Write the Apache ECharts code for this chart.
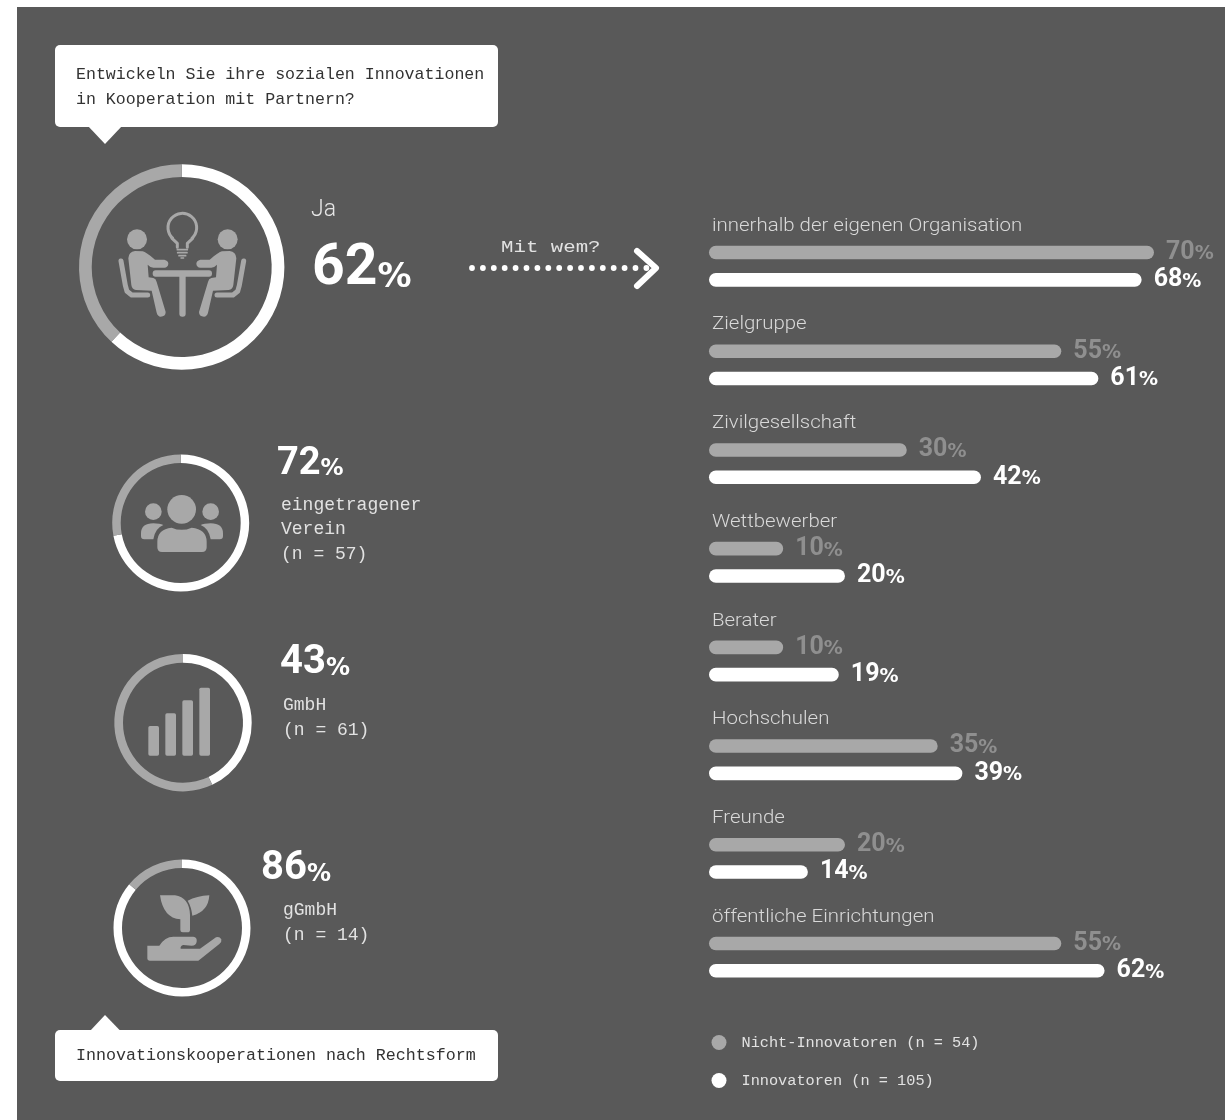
<!DOCTYPE html>
<html lang="de">
<head>
<meta charset="utf-8">
<title>Innovationskooperationen</title>
<style>html,body{margin:0;padding:0;background:#fff}#chart{width:1225px;height:1120px}</style>
<script src="https://cdn.jsdelivr.net/npm/echarts@6/dist/echarts.min.js"></script>
</head>
<body>
<div id="chart"></div>
<script>
// Partner categories and the share of each group that cooperates with them (percent)
const kategorien = ['innerhalb der eigenen Organisation', 'Zielgruppe', 'Zivilgesellschaft', 'Wettbewerber', 'Berater', 'Hochschulen', 'Freunde', 'öffentliche Einrichtungen'];
const nichtInnovatoren = [70, 55, 30, 10, 10, 35, 20, 55];
const innovatoren = [68, 61, 42, 20, 19, 39, 14, 62];
const serieNamen = ['Nicht-Innovatoren (n = 54)', 'Innovatoren (n = 105)'];

// Cooperation share overall and by legal form (percent)
const anteilGesamt = 62;
const anteilRechtsform = [72, 43, 86];

const GRAU = '#a8a8a8', GRAU_TEXT = '#8f8f8f', WEISS = '#ffffff', HINTERGRUND = '#595959';
const HELL_TEXT = '#e2e2e2', MONO = '"Liberation Mono", monospace', SANS = 'Roboto, sans-serif', PROZENT = '"DejaVu Sans", sans-serif';

const chart = echarts.init(document.getElementById('chart'), null, { renderer: 'canvas' });

function text(x, y, s, font, fill, extra) {
  return Object.assign({ type: 'text', z: 10, silent: true, style: Object.assign({ x: x, y: y, text: s, font: font, fill: fill, align: 'left', verticalAlign: 'middle' }, extra && extra.style) }, extra && extra.el);
}
// Large figure with a smaller percent sign on the same baseline
function prozent(x, y, value, size, small) {
  const pad = Math.round(0.7 * (size - small));
  return { type: 'text', z: 10, silent: true, style: {
    x: x, y: y, text: '{v|' + value + '}{p|%}', fill: WEISS, align: 'left', verticalAlign: 'middle',
    rich: {
      v: { font: '700 ' + size + 'px ' + SANS, fill: WEISS },
      p: { font: '700 ' + small + 'px ' + PROZENT, fill: WEISS, padding: [pad, 0, 0, 0] }
    }
  } };
}
let pfadNummer = 0;
function pfad(d) {
  const name = 'symbolPfad' + (pfadNummer++);
  echarts.graphic.registerShape(name, echarts.graphic.extendPath(d));
  return { type: name, style: { fill: GRAU } };
}
function linie(points, width) {
  return { type: 'polyline', shape: { points: points }, style: { stroke: GRAU, lineWidth: width, lineCap: 'round', lineJoin: 'round', fill: null } };
}
function gruppe(x, y, sx, children) {
  return { type: 'group', x: x, y: y, scaleX: sx, scaleY: Math.abs(sx), z: 5, silent: true, children: children };
}
function sprechblase(x, y, w, h, tri) {
  return [
    { type: 'rect', z: 3, silent: true, shape: { x: x, y: y, width: w, height: h, r: 5 }, style: { fill: WEISS } },
    { type: 'polygon', z: 3, silent: true, shape: { points: tri }, style: { fill: WEISS } }
  ];
}

// Pictograms, drawn in a 3x local grid
const personKopf = { type: 'circle', shape: { cx: 111, cy: 148, r: 30 }, style: { fill: GRAU } };
const personKoerper = pfad('M85,205 Q86,185 105,183 L128,184 Q138,186 165,209 L193,209 Q205,212 205,221 Q204,232 193,233 L160,233 Q150,232 143,224 L146,262 L160,264 Q168,266 170,276 L197,366 Q197,380 182,380 Q173,379 170,368 L155,302 L108,300 Q96,298 94,285 Z');
const personStuhl = linie([[63, 213], [76, 286], [81, 304], [95, 315], [143, 315]], 15);
const person = function () {
  return [Object.assign({}, personKopf), Object.assign({}, personKoerper), Object.assign({}, personStuhl)];
};
const symbolTisch = gruppe(100, 190, 1 / 3, person().concat([
  { type: 'arc', shape: { cx: 247, cy: 113, r: 43, startAngle: Math.PI * 0.72, endAngle: Math.PI * 0.28, clockwise: true }, style: { stroke: GRAU, lineWidth: 9, fill: null } },
  linie([[216, 145], [232, 160], [232, 172]], 9),
  linie([[278, 145], [262, 160], [262, 172]], 9),
  linie([[232, 179], [262, 179]], 5),
  linie([[233, 188], [261, 188]], 5),
  linie([[237, 197], [257, 197]], 5),
  linie([[243, 204], [251, 204]], 4),
  { type: 'rect', shape: { x: 158, y: 241, width: 178, height: 19, r: 9 }, style: { fill: GRAU } },
  { type: 'rect', shape: { x: 238, y: 250, width: 19, height: 130, r: 9 }, style: { fill: GRAU } }
]));
const symbolTischRechts = gruppe(100 + 494 / 3, 190, -1 / 3, person());

const seitenKopf = { type: 'circle', shape: { cx: 160, cy: 125, r: 25 }, style: { fill: GRAU } };
const seitenKoerper = pfad('M123,190 Q123,160 160,160 Q180,160 190,165 Q165,175 160,208 L133,208 Q123,208 123,198 Z');
const seitenPerson = function () { return [Object.assign({}, seitenKopf), Object.assign({}, seitenKoerper)]; };
const symbolGruppe = gruppe(100, 470, 1 / 3, seitenPerson().concat([
  { type: 'circle', shape: { cx: 245, cy: 118, r: 43 }, style: { fill: GRAU } },
  pfad('M172,215 Q172,178 215,173 Q245,186 275,173 Q320,178 320,215 L320,232 Q320,246 306,246 L186,246 Q172,246 172,232 Z')
]));
const symbolGruppeRechts = gruppe(100 + 492 / 3, 470, -1 / 3, seitenPerson());

const symbolBalken = gruppe(60, 430, 1 / 3, [
  [265, 888], [316, 850], [367, 811], [418, 773]
].map(function (p) {
  return { type: 'rect', shape: { x: p[0], y: p[1], width: 32, height: 977 - p[1], r: 5 }, style: { fill: GRAU } };
}));

const symbolPflanze = gruppe(130, 880, 1 / 3, [
  pfad('M90,46 L135,46 Q178,52 180,105 L180,150 Q180,157 172,157 L158,157 Q151,157 151,150 L151,118 Q100,115 90,46 Z'),
  pfad('M238,46 Q200,48 173,62 Q184,80 187,107 Q235,95 238,46 Z'),
  pfad('M52,197 L88,197 Q105,170 130,170 L190,170 Q202,172 200,185 Q198,197 185,197 L160,195 Q150,198 152,206 L210,206 L258,172 Q268,168 274,178 Q276,186 268,192 L205,242 L60,242 Q52,242 52,235 Z')
]);

// Dotted arrow between the overall figure and the bars
const pfeilPunkte = [];
for (let i = 0; i < 17; i++) {
  pfeilPunkte.push({ type: 'circle', z: 5, silent: true, shape: { cx: 472 + i * 10.9, cy: 268, r: 2.9 }, style: { fill: WEISS } });
}

// Donut rings
function ring(center, inner, outer, value) {
  return {
    type: 'pie', silent: true, animation: false, center: center, radius: [inner, outer], startAngle: 90,
    label: { show: false }, labelLine: { show: false }, emphasis: { disabled: true },
    data: [
      { value: value, name: 'Ja', itemStyle: { color: WEISS } },
      { value: 100 - value, name: 'Nein', itemStyle: { color: GRAU } }
    ]
  };
}

// Rounded bar with its value label, scaled by the grid's axes
function balkenSerie(name, values, color, labelColor, offset) {
  return {
    type: 'custom', name: name, coordinateSystem: 'cartesian2d', silent: true, animation: false,
    itemStyle: { color: color },
    data: values.map(function (v, i) { return [v, kategorien[i]]; }),
    encode: { x: 0, y: 1 },
    renderItem: function (params, api) {
      const end = api.coord([api.value(0), api.value(1)]);
      const start = api.coord([-2, api.value(1)]);
      const h = 13.6, y = end[1] + offset;
      return { type: 'group', children: [
        { type: 'rect', shape: { x: start[0], y: y - h / 2, width: end[0] - start[0], height: h, r: h / 2 }, style: { fill: color } },
        { type: 'text', style: {
          x: end[0] + 12, y: y, text: '{v|' + api.value(0) + '}{p|%}', align: 'left', verticalAlign: 'middle', fill: labelColor,
          rich: {
            v: { font: '700 25px ' + SANS, fill: labelColor },
            p: { font: '700 19px ' + PROZENT, fill: labelColor, padding: [4, 0, 0, 0] }
          }
        } }
      ] };
    }
  };
}
// Category captions above each bar pair
const kategorieSerie = {
  type: 'custom', coordinateSystem: 'cartesian2d', silent: true, animation: false,
  data: kategorien.map(function (k) { return [-2, k]; }),
  encode: { x: 0, y: 1 },
  renderItem: function (params, api) {
    const p = api.coord([-2, api.value(1)]);
    return { type: 'text', x: p[0] + 3, y: p[1] - 40, scaleX: 1.135, scaleY: 1, style: { x: 0, y: 0, text: kategorien[params.dataIndex], font: '300 18px ' + SANS, fill: '#d9d9d9', align: 'left', verticalAlign: 'middle' } };
  }
};

chart.setOption({
  animation: false,
  backgroundColor: '#ffffff',
  grid: { left: 709, top: 216.85, width: 506.8, height: 789.6, containLabel: false },
  xAxis: { type: 'value', min: -2, max: 80, show: false },
  yAxis: { type: 'category', data: kategorien, inverse: true, show: false },
  legend: {
    orient: 'vertical', left: 706.5, top: 1030, itemWidth: 15, itemHeight: 15, itemGap: 23, icon: 'circle',
    selectedMode: false, data: serieNamen,
    textStyle: { color: HELL_TEXT, fontFamily: MONO, fontSize: 15.25, padding: [0, 0, 0, 10] }
  },
  series: [
    ring([181.7, 267], 90, 102.7, anteilGesamt),
    ring([180.7, 523], 60, 68.5, anteilRechtsform[0]),
    ring([183, 722.7], 60, 68.7, anteilRechtsform[1]),
    ring([182, 928], 60, 68.5, anteilRechtsform[2]),
    balkenSerie(serieNamen[0], nichtInnovatoren, GRAU, GRAU_TEXT, -13.65),
    balkenSerie(serieNamen[1], innovatoren, WEISS, WEISS, 13.65),
    kategorieSerie
  ],
  graphic: { elements: [
    { type: 'rect', z: -10, silent: true, shape: { x: 17, y: 7, width: 1208, height: 1113 }, style: { fill: HINTERGRUND } }
  ].concat(
    sprechblase(55, 45, 443, 82, [[88, 126], [122, 126], [105, 144]]),
    sprechblase(55, 1030, 443, 51, [[90, 1031], [120.5, 1031], [105, 1015]]),
    [
      text(76, 75, 'Entwickeln Sie ihre sozialen Innovationen', '16.6px ' + MONO, '#333333'),
      text(76, 100, 'in Kooperation mit Partnern?', '16.6px ' + MONO, '#333333'),
      text(76, 1056, 'Innovationskooperationen nach Rechtsform', '16.67px ' + MONO, '#333333'),
      symbolTisch, symbolTischRechts, symbolGruppe, symbolGruppeRechts, symbolBalken, symbolPflanze,
      text(311, 210, 'Ja', '300 23px ' + SANS, '#e6e6e6'),
      prozent(312, 270, anteilGesamt, 57, 34),
      prozent(277, 464, anteilRechtsform[0], 38, 23),
      text(281, 505, 'eingetragener', '18px ' + MONO, HELL_TEXT),
      text(281, 529, 'Verein', '18px ' + MONO, HELL_TEXT),
      text(281, 554, '(n = 57)', '18px ' + MONO, HELL_TEXT),
      prozent(280, 663, anteilRechtsform[1], 40, 24),
      text(283, 705, 'GmbH', '18px ' + MONO, HELL_TEXT),
      text(283, 730, '(n = 61)', '18px ' + MONO, HELL_TEXT),
      prozent(261, 869, anteilRechtsform[2], 40, 24),
      text(283, 910, 'gGmbH', '18px ' + MONO, HELL_TEXT),
      text(283, 935, '(n = 14)', '18px ' + MONO, HELL_TEXT),
      Object.assign(text(0, 0, 'Mit wem?', '17px ' + MONO, HELL_TEXT), { x: 501, y: 247, scaleX: 1.22, scaleY: 1 }),
      { type: 'polyline', z: 6, silent: true, shape: { points: [[637, 251], [656, 268], [637, 286]] }, style: { stroke: WEISS, lineWidth: 6, lineCap: 'round', lineJoin: 'round', fill: null } }
    ],
    pfeilPunkte
  ) }
});
</script>
</body>
</html>
